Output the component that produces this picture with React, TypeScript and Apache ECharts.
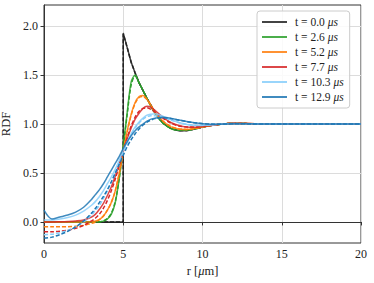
import React, { useEffect, useRef } from "react";
import * as echarts from "echarts";

// shared radius grid (µm)
const R = [0, 0.5, 1, 1.5, 2, 2.5, 3, 3.25, 3.5, 3.75, 4, 4.25, 4.5, 4.75, 5, 5.25, 5.5, 5.75, 6, 6.25, 6.5, 6.75, 7, 7.5, 8, 8.5, 9, 9.5, 10, 10.5, 11, 11.5, 12, 13, 14, 15, 16, 17, 18, 19, 20];

// t = 0 (step profile)
const R_BLACK = [0, 4.999, 5, 5.25, 5.5, 5.75, 6, 6.25, 6.5, 6.75, 7, 7.5, 8, 8.5, 9, 9.5, 10, 10.5, 11, 11.5, 12, 13, 14, 15, 16, 17, 18, 19, 20];
const BLACK_SIM = [0, 0, 1.93, 1.78, 1.63, 1.52, 1.42, 1.34, 1.26, 1.19, 1.12, 1.01, 0.955, 0.93, 0.932, 0.948, 0.968, 0.985, 0.995, 1.003, 1.008, 1.003, 1.0, 1.0, 1.0, 1.0, 1.0, 1.0, 1.0];
const BLACK_FIT = [0, 0, 1.92, 1.78, 1.63, 1.52, 1.42, 1.34, 1.26, 1.19, 1.12, 1.01, 0.955, 0.932, 0.933, 0.948, 0.968, 0.985, 0.995, 1.003, 1.007, 1.003, 1.0, 1.0, 1.0, 1.0, 1.0, 1.0, 1.0];

const GREEN_SIM = [0, 0, 0, 0, 0, 0, 0, 0, 0.002, 0.008, 0.03, 0.08, 0.2, 0.45, 0.78, 1.12, 1.43, 1.5, 1.42, 1.34, 1.26, 1.18, 1.11, 1.01, 0.955, 0.935, 0.935, 0.95, 0.97, 0.985, 0.995, 1.003, 1.008, 1.003, 1.0, 1.0, 1.0, 1.0, 1.0, 1.0, 1.0];
const GREEN_FIT = [0, 0, 0, 0, 0, 0, 0, 0, 0.002, 0.01, 0.035, 0.09, 0.21, 0.45, 0.76, 1.1, 1.4, 1.49, 1.42, 1.34, 1.26, 1.18, 1.11, 1.01, 0.955, 0.935, 0.935, 0.95, 0.97, 0.985, 0.995, 1.003, 1.007, 1.003, 1.0, 1.0, 1.0, 1.0, 1.0, 1.0, 1.0];

const ORANGE_SIM = [0, 0, 0, 0, 0, 0, 0.003, 0.01, 0.025, 0.06, 0.12, 0.2, 0.32, 0.5, 0.72, 0.93, 1.1, 1.22, 1.28, 1.29, 1.25, 1.19, 1.12, 1.03, 0.97, 0.95, 0.945, 0.955, 0.97, 0.985, 0.995, 1.003, 1.008, 1.004, 1.0, 1.0, 1.0, 1.0, 1.0, 1.0, 1.0];
const ORANGE_FIT = [-0.05, -0.05, -0.05, -0.048, -0.045, -0.035, -0.015, 0.0, 0.025, 0.06, 0.12, 0.2, 0.32, 0.5, 0.71, 0.92, 1.09, 1.21, 1.27, 1.28, 1.25, 1.19, 1.12, 1.03, 0.975, 0.95, 0.945, 0.955, 0.97, 0.985, 0.995, 1.003, 1.007, 1.003, 1.0, 1.0, 1.0, 1.0, 1.0, 1.0, 1.0];

const RED_SIM = [0, 0, 0.002, 0.005, 0.01, 0.02, 0.05, 0.08, 0.13, 0.19, 0.27, 0.36, 0.47, 0.59, 0.73, 0.85, 0.96, 1.05, 1.11, 1.16, 1.18, 1.17, 1.14, 1.07, 1.015, 0.985, 0.97, 0.968, 0.975, 0.985, 0.995, 1.003, 1.008, 1.004, 1.0, 1.0, 1.0, 1.0, 1.0, 1.0, 1.0];
const RED_FIT = [-0.1, -0.1, -0.095, -0.085, -0.065, -0.035, 0.01, 0.04, 0.08, 0.14, 0.22, 0.32, 0.44, 0.58, 0.72, 0.86, 0.98, 1.07, 1.13, 1.16, 1.165, 1.15, 1.12, 1.06, 1.01, 0.98, 0.97, 0.97, 0.978, 0.987, 0.995, 1.002, 1.006, 1.003, 1.0, 1.0, 1.0, 1.0, 1.0, 1.0, 1.0];

const LIGHT_SIM = [0.02, 0.02, 0.03, 0.045, 0.07, 0.11, 0.17, 0.21, 0.26, 0.32, 0.39, 0.46, 0.54, 0.63, 0.73, 0.82, 0.9, 0.97, 1.02, 1.06, 1.09, 1.1, 1.105, 1.08, 1.045, 1.015, 0.995, 0.985, 0.985, 0.99, 0.997, 1.002, 1.005, 1.003, 1.0, 1.0, 1.0, 1.0, 1.0, 1.0, 1.0];
const LIGHT_FIT = [-0.13, -0.125, -0.11, -0.085, -0.05, 0.0, 0.07, 0.12, 0.17, 0.24, 0.32, 0.41, 0.5, 0.6, 0.71, 0.81, 0.89, 0.96, 1.01, 1.05, 1.075, 1.085, 1.085, 1.07, 1.04, 1.015, 0.997, 0.988, 0.988, 0.992, 0.997, 1.001, 1.004, 1.002, 1.0, 1.0, 1.0, 1.0, 1.0, 1.0, 1.0];

const BLUE_SIM = [0.12, 0.03, 0.05, 0.07, 0.1, 0.15, 0.23, 0.28, 0.33, 0.39, 0.46, 0.53, 0.6, 0.67, 0.75, 0.82, 0.88, 0.93, 0.97, 1.0, 1.03, 1.05, 1.06, 1.07, 1.06, 1.04, 1.025, 1.012, 1.003, 0.998, 0.998, 1.0, 1.003, 1.002, 1.0, 1.0, 1.0, 1.0, 1.0, 1.0, 1.0];
const BLUE_FIT = [-0.165, -0.155, -0.13, -0.095, -0.05, 0.01, 0.09, 0.14, 0.2, 0.26, 0.33, 0.41, 0.5, 0.59, 0.68, 0.77, 0.84, 0.9, 0.95, 0.99, 1.02, 1.04, 1.055, 1.065, 1.055, 1.04, 1.025, 1.012, 1.004, 0.999, 0.998, 1.0, 1.002, 1.001, 1.0, 1.0, 1.0, 1.0, 1.0, 1.0, 1.0];

const TIMES = ["0.0", "2.6", "5.2", "7.7", "10.3", "12.9"];
const COLORS = ["#222222", "#2ca02c", "#ff7f0e", "#d62728", "#87cefa", "#1f77b4"];
const X_TICKS = [0, 5, 10, 15, 20];
const Y_TICKS = [0, 0.5, 1.0, 1.5, 2.0];

const FONT = "Times New Roman, Liberation Serif, serif";

function pairs(xs: number[], ys: number[]) {
  return xs.map((x, i) => [x, ys[i]]);
}

export default function App() {
  const ref = useRef<HTMLDivElement>(null);
  useEffect(() => {
    if (!ref.current) return;
    const chart = echarts.init(ref.current, undefined, { renderer: "svg" });
    const sims = [
      pairs(R_BLACK, BLACK_SIM),
      pairs(R, GREEN_SIM),
      pairs(R, ORANGE_SIM),
      pairs(R, RED_SIM),
      pairs(R, LIGHT_SIM),
      pairs(R, BLUE_SIM),
    ];
    const fits = [
      pairs(R_BLACK, BLACK_FIT),
      pairs(R, GREEN_FIT),
      pairs(R, ORANGE_FIT),
      pairs(R, RED_FIT),
      pairs(R, LIGHT_FIT),
      pairs(R, BLUE_FIT),
    ];
    const names = TIMES.map((t) => `t = ${t} μs`);
    const series: any[] = [];
    TIMES.forEach((_, i) => {
      series.push({
        type: "line",
        name: names[i],
        data: sims[i],
        showSymbol: false,
        symbol: "none",
        smooth: i === 0 ? false : 0.3,
        lineStyle: { color: COLORS[i], width: 1.5, opacity: 0.85 },
        itemStyle: { color: COLORS[i], opacity: 0.85 },
        z: 2 + i * 2,
      });
      series.push({
        type: "line",
        name: "fit" + i,
        data: fits[i],
        showSymbol: false,
        symbol: "none",
        smooth: i === 0 ? false : 0.3,
        lineStyle: { color: COLORS[i], width: 1.5, type: [4, 2] },
        itemStyle: { color: COLORS[i] },
        z: 3 + i * 2,
      });
    });

    chart.setOption({
      animation: false,
      textStyle: { fontFamily: FONT },
      grid: {
        left: 44,
        right: 13,
        top: 5,
        bottom: 40,
        containLabel: false,
        outerBoundsMode: "none",
        show: true,
        borderColor: "#333",
        borderWidth: 1,
        backgroundColor: "transparent",
      },
      legend: {
        data: names,
        orient: "vertical",
        left: 257,
        top: 11,
        padding: [5, 6, 5, 5],
        icon: "rect",
        itemWidth: 25,
        itemHeight: 2,
        itemGap: 3,
        backgroundColor: "rgba(255,255,255,0.85)",
        borderColor: "#cccccc",
        borderWidth: 1,
        borderRadius: 3,
        formatter: (n: string) => n.replace("μs", "{i|μs}"),
        textStyle: {
          fontFamily: FONT,
          fontSize: 11.5,
          color: "#222",
          padding: [0, 0, 0, 3],
          rich: { i: { fontStyle: "italic", fontFamily: FONT, fontSize: 11.5, color: "#222" } },
        },
      },
      xAxis: {
        type: "value",
        min: 0,
        max: 20,
        interval: 5,
        name: "r [{i|μ}m]",
        nameLocation: "middle",
        nameGap: 21,
        nameTextStyle: {
          fontFamily: FONT,
          fontSize: 12.5,
          color: "#222",
          rich: { i: { fontStyle: "italic", fontFamily: FONT, fontSize: 12.5, color: "#222" } },
        },
        axisLine: { show: true, lineStyle: { color: "#333", width: 1 } },
        axisTick: { show: true, length: 3.5, lineStyle: { color: "#333" }, customValues: X_TICKS },
        axisLabel: { fontFamily: FONT, fontSize: 12, color: "#222", margin: 5, customValues: X_TICKS },
        splitLine: { show: true, lineStyle: { color: "#dcdcdc", width: 1 } },
      },
      yAxis: {
        type: "value",
        min: -0.215,
        max: 2.215,
        name: "RDF",
        nameLocation: "middle",
        nameRotate: 90,
        nameGap: 22,
        nameTextStyle: { fontFamily: FONT, fontSize: 12.5, color: "#222" },
        axisLine: { show: true, lineStyle: { color: "#333", width: 1 } },
        axisTick: { show: true, length: 3.5, lineStyle: { color: "#333" }, customValues: Y_TICKS },
        axisLabel: {
          fontFamily: FONT,
          fontSize: 12,
          color: "#222",
          margin: 6,
          customValues: Y_TICKS,
          formatter: (v: number) => v.toFixed(1),
        },
        splitLine: { show: true, lineStyle: { color: "#dcdcdc", width: 1 } },
      },
      series,
    });
    return () => chart.dispose();
  }, []);
  return (
    <div
      ref={ref}
      style={{ position: "fixed", left: 0, top: 0, width: 374, height: 283, background: "#fff" }}
    />
  );
}
